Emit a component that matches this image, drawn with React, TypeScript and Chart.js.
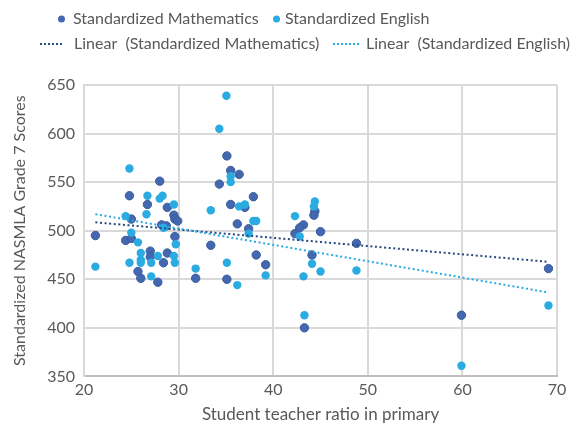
import React, { useEffect, useRef } from 'react';
import { Chart, registerables } from 'chart.js';

Chart.register(...registerables);

// Student teacher ratio (x) and standardized scores (y)
const mathRatio = [21.2, 24.8, 25.0, 24.4, 25.0, 28.0, 26.7, 28.8, 29.5, 29.6, 29.9, 28.2, 28.7, 29.6, 27.0, 27.0, 28.8, 28.4, 25.7, 26.0, 27.8, 35.1, 35.5, 36.4, 34.3, 37.9, 35.5, 37.0, 36.2, 37.4, 33.4, 38.2, 39.2, 31.8, 35.1, 44.4, 44.3, 43.2, 42.8, 42.3, 45.0, 48.8, 44.1, 43.3, 59.9, 69.1];
const mathScore = [495, 536, 512, 490, 492, 551, 527, 524, 516, 512, 510, 506, 505, 494, 479, 473, 477, 467, 458, 451, 447, 577, 562, 558, 548, 535, 527, 524, 507, 502, 485, 475, 465, 451, 450, 520, 516, 506, 503, 497, 499, 487, 475, 400, 413, 461];

const engRatio = [21.2, 24.8, 24.4, 25.0, 25.7, 24.8, 26.7, 28.0, 28.3, 29.5, 26.6, 28.4, 29.7, 26.0, 26.0, 27.8, 29.5, 26.0, 27.1, 29.6, 27.1, 31.8, 33.4, 35.05, 34.3, 35.5, 35.5, 36.4, 37.0, 37.9, 38.2, 37.4, 35.1, 39.2, 36.2, 44.4, 44.3, 42.3, 42.8, 44.1, 45.0, 48.8, 43.2, 43.3, 59.9, 69.1];
const engScore = [463, 564, 515, 498, 488, 467, 536, 533, 536, 527, 517, 503, 486, 477, 470, 474, 474, 467, 467, 467, 453, 461, 521, 639, 605, 556, 550, 525, 527, 510, 510, 497, 467, 454, 444, 530, 525, 515, 494, 466, 458, 459, 453, 413, 361, 423];

const seriesLabels = ['Standardized Mathematics', 'Standardized English'];
const trendLabels = ['Linear  (Standardized Mathematics)', 'Linear  (Standardized English)'];

const xMin = 20, xMax = 70, xStep = 10;
const yMin = 350, yMax = 650, yStep = 50;

const xTitle = 'Student teacher ratio in primary';
const yTitle = 'Standardized NASMLA Grade 7 Scores';

const MATH_COLOR = '#4468B0';
const MATH_BORDER = '#3A5C9F';
const ENG_COLOR = '#2AABE2';
const MATH_TREND = '#28497F';
const ENG_TREND = '#2AABE2';
const TEXT = '#595959';
const FONT = 'Lato';

function points(xs: number[], ys: number[]) {
  return xs.map((x, i) => ({ x, y: ys[i] }));
}

function trend(xs: number[], ys: number[]) {
  const n = xs.length;
  const mx = xs.reduce((a, b) => a + b, 0) / n;
  const my = ys.reduce((a, b) => a + b, 0) / n;
  let sxy = 0, sxx = 0;
  for (let i = 0; i < n; i++) {
    sxy += (xs[i] - mx) * (ys[i] - my);
    sxx += (xs[i] - mx) * (xs[i] - mx);
  }
  const b = sxy / sxx;
  const a = my - b * mx;
  const lo = Math.min(...xs), hi = Math.max(...xs);
  return [{ x: lo, y: a + b * lo }, { x: hi, y: a + b * hi }];
}

// legend layout (canvas px)
const legendLayout = [
  { kind: 'dot', color: MATH_COLOR, mx: 61.5, tx: 73, y: 19, label: seriesLabels[0] },
  { kind: 'dot', color: ENG_COLOR, mx: 276.5, tx: 285, y: 19, label: seriesLabels[1] },
  { kind: 'line', color: MATH_TREND, mx: 40, mx2: 63, tx: 74, y: 44, label: trendLabels[0] },
  { kind: 'line', color: ENG_TREND, mx: 333, mx2: 359, tx: 366, y: 44, label: trendLabels[1] },
];

const legendPlugin = {
  id: 'customLegend',
  afterDraw(chart: any) {
    const ctx = chart.ctx as CanvasRenderingContext2D;
    ctx.save();
    ctx.font = `16px ${FONT}`;
    ctx.textBaseline = 'middle';
    ctx.textAlign = 'left';
    for (const it of legendLayout) {
      if (it.kind === 'dot') {
        ctx.fillStyle = it.color;
        ctx.beginPath();
        ctx.arc(it.mx, it.y, 3.5, 0, Math.PI * 2);
        ctx.fill();
      } else {
        ctx.strokeStyle = it.color;
        ctx.lineWidth = 2;
        ctx.setLineDash([2, 2]);
        ctx.beginPath();
        ctx.moveTo(it.mx, it.y);
        ctx.lineTo(it.mx2 as number, it.y);
        ctx.stroke();
        ctx.setLineDash([]);
      }
      ctx.fillStyle = TEXT;
      ctx.fillText(it.label, it.tx, it.y);
    }
    ctx.restore();
  },
};

export default function App() {
  const ref = useRef<HTMLCanvasElement | null>(null);
  useEffect(() => {
    document.body.style.margin = '0';
    document.body.style.overflow = 'hidden';
    if (!ref.current) return;
    const chart = new Chart(ref.current, {
      type: 'scatter',
      data: {
        datasets: [
          {
            label: seriesLabels[0],
            data: points(mathRatio, mathScore),
            backgroundColor: MATH_COLOR,
            borderColor: MATH_BORDER,
            borderWidth: 1,
            pointRadius: 4.2,
            order: 4,
          },
          {
            label: seriesLabels[1],
            data: points(engRatio, engScore),
            backgroundColor: ENG_COLOR,
            borderColor: ENG_COLOR,
            borderWidth: 0,
            pointRadius: 4.2,
            order: 3,
          },
          {
            label: trendLabels[0],
            data: trend(mathRatio, mathScore),
            showLine: true,
            borderColor: MATH_TREND,
            borderWidth: 2,
            borderDash: [2, 2.6],
            pointRadius: 0,
            fill: false,
            order: 2,
          } as any,
          {
            label: trendLabels[1],
            data: trend(engRatio, engScore),
            showLine: true,
            borderColor: ENG_TREND,
            borderWidth: 2,
            borderDash: [2, 2.6],
            pointRadius: 0,
            fill: false,
            order: 1,
          } as any,
        ],
      },
      options: {
        animation: false,
        responsive: false,
        layout: { padding: { top: 85, right: 17, left: 6, bottom: 0 } },
        plugins: {
          legend: { display: false },
          tooltip: { enabled: false },
        },
        scales: {
          x: {
            type: 'linear',
            min: xMin,
            max: xMax,
            ticks: { stepSize: xStep, color: TEXT, font: { family: FONT, size: 16 }, padding: 4 },
            grid: { color: '#d9d9d9', lineWidth: 2, drawTicks: false },
            border: { color: '#bfbfbf', width: 2 },
            title: { display: true, text: xTitle, color: TEXT, font: { family: FONT, size: 17 }, padding: { top: 1, bottom: 2 } },
          },
          y: {
            type: 'linear',
            min: yMin,
            max: yMax,
            ticks: { stepSize: yStep, color: TEXT, font: { family: FONT, size: 16 }, padding: 9 },
            grid: { color: '#d9d9d9', lineWidth: 2, drawTicks: false },
            border: { color: '#d9d9d9', width: 2 },
            title: { display: true, text: yTitle, color: TEXT, font: { family: FONT, size: 16 }, padding: { top: 4, bottom: 9 } },
          },
        },
      },
      plugins: [legendPlugin],
    });
    return () => chart.destroy();
  }, []);
  return (
    <div style={{ width: 574, height: 427 }}>
      <canvas ref={ref} width={574} height={427} style={{ display: 'block' }} />
    </div>
  );
}
